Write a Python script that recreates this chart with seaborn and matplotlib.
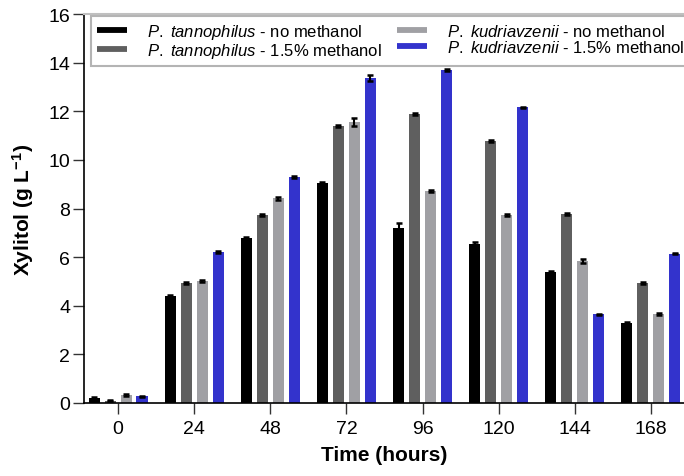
import matplotlib
matplotlib.use("Agg")
import matplotlib.pyplot as plt
from matplotlib.lines import Line2D
import numpy as np
import pandas as pd
import seaborn as sns

# datos
horas = ["0", "24", "48", "72", "96", "120", "144", "168"]
condiciones = ["tan_no", "tan_me", "kud_no", "kud_me"]
etiquetas = [
    r"$\it{P.\ tannophilus}$ - no methanol",
    r"$\it{P.\ tannophilus}$ - 1.5% methanol",
    r"$\it{P.\ kudriavzenii}$ - no methanol",
    r"$\it{P.\ kudriavzenii}$ - 1.5% methanol",
]
colores = ["#000000", "#5f5f5f", "#a0a0a4", "#3333cc"]

tan_no = [0.20, 4.40, 6.79, 9.05, 7.20, 6.54, 5.37, 3.29]
tan_me = [0.10, 4.94, 7.73, 11.38, 11.87, 10.79, 7.76, 4.92]
kud_no = [0.33, 5.02, 8.42, 11.55, 8.73, 7.73, 5.83, 3.65]
kud_me = [0.27, 6.21, 9.28, 13.37, 13.69, 12.16, 3.65, 6.14]

err_tan_no = [0.03, 0.05, 0.04, 0.06, 0.20, 0.07, 0.04, 0.04]
err_tan_me = [0.03, 0.04, 0.04, 0.04, 0.04, 0.04, 0.04, 0.04]
err_kud_no = [0.03, 0.04, 0.06, 0.17, 0.04, 0.04, 0.08, 0.04]
err_kud_me = [0.03, 0.04, 0.04, 0.12, 0.04, 0.03, 0.03, 0.03]

valores = [tan_no, tan_me, kud_no, kud_me]
errores = [err_tan_no, err_tan_me, err_kud_no, err_kud_me]

df = pd.DataFrame(
    [(h, c, v) for c, serie in zip(condiciones, valores) for h, v in zip(horas, serie)],
    columns=["hora", "cond", "xilitol"],
)

sns.set_style("ticks")
plt.rcParams["font.family"] = ["Liberation Sans", "DejaVu Sans"]
plt.rcParams["mathtext.fontset"] = "custom"
plt.rcParams["mathtext.rm"] = "Liberation Sans"
plt.rcParams["mathtext.it"] = "Liberation Sans:italic"
plt.rcParams["mathtext.bf"] = "Liberation Sans:bold"
plt.rcParams["text.color"] = "black"
plt.rcParams["axes.labelcolor"] = "black"
plt.rcParams["xtick.labelcolor"] = "black"
plt.rcParams["ytick.labelcolor"] = "black"

fig = plt.figure(figsize=(6.84, 4.77), dpi=100)
ax = fig.add_axes([84 / 684, 1 - 404 / 477, 1 - 84 / 684, (404 - 15) / 477])

sns.barplot(
    data=df, x="hora", y="xilitol", hue="cond",
    order=horas, hue_order=condiciones, palette=colores,
    width=0.84, gap=0.31, errorbar=None, legend=False,
    linewidth=0, saturation=1, ax=ax,
)

# barras de error a partir de los rectángulos dibujados
for cont, err in zip(ax.containers, errores):
    xs = [b.get_x() + b.get_width() / 2 for b in cont]
    ys = [b.get_height() for b in cont]
    ax.errorbar(xs, ys, yerr=err, fmt="none", ecolor="black",
                elinewidth=1.5, capsize=2.3, capthick=1.8, zorder=5)

ax.set_xlim(-0.447, 7.434)
ax.set_ylim(0, 16)
ax.set_yticks(np.arange(0, 17, 2))
ax.tick_params(axis="both", labelsize=14, length=8, width=1, color="#333333")
ax.tick_params(axis="y", pad=2)
ax.tick_params(axis="x", pad=4)
ax.yaxis.get_major_ticks()[-1].tick1line.set_color("#c0c0c0")

ax.set_xlabel("Time (hours)", fontsize=15, fontweight="bold", labelpad=6)
ax.set_ylabel(r"Xylitol (g L$^{\mathbf{-1}}$)", fontsize=15, fontweight="bold", labelpad=9)

for lado in ["left", "bottom"]:
    ax.spines[lado].set_color("black")
    ax.spines[lado].set_linewidth(1.2)
ax.spines["right"].set_visible(False)
ax.spines["top"].set_color("#c0c0c0")
ax.spines["top"].set_linewidth(1.5)

manejadores = [Line2D([0], [0], color=c, lw=4.2, solid_capstyle="butt") for c in colores]
leg = ax.legend(
    manejadores, etiquetas, ncol=2, fontsize=12,
    loc="upper left", bbox_to_anchor=(91 / 684, 1 - 17 / 477),
    bbox_transform=fig.transFigure, borderaxespad=0,
    handlelength=1.8, handletextpad=1.2, columnspacing=0.9,
    labelspacing=0.0, borderpad=0.35, fancybox=False, framealpha=1,
    edgecolor="#b4b4b4",
)
leg.get_frame().set_linewidth(1.5)

fig.savefig("out.png", dpi=100)
